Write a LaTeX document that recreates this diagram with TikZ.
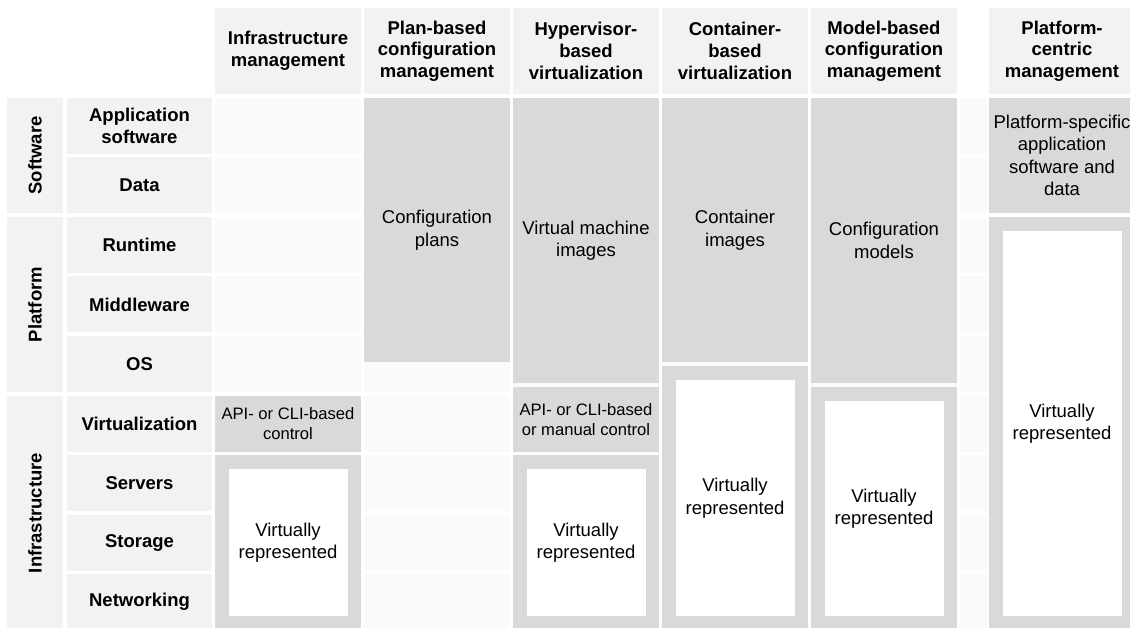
\documentclass[tikz,border=0pt]{standalone}
\usepackage{fontspec}
\setmainfont{Liberation Sans}
\usepackage{tikz}
\usetikzlibrary{positioning}
\definecolor{cellgrey}{RGB}{242,242,242}
\definecolor{bodygrey}{RGB}{250,250,250}
\definecolor{boxgrey}{RGB}{217,217,217}

\begin{document}
\begin{tikzpicture}[
  x=1pt, y=-1pt,
  every node/.style={inner sep=0pt, outer sep=0pt, anchor=north west, align=center},
  hdr/.style={fill=cellgrey, minimum width=146pt, minimum height=86pt, font=\fontsize{18.5}{21.7}\selectfont\bfseries},
  lbl/.style={fill=cellgrey, minimum width=145pt, minimum height=56pt, font=\fontsize{18.5}{22}\selectfont\bfseries},
  cat/.style={fill=cellgrey, anchor=center, rotate=90, minimum height=56pt, font=\fontsize{18.5}{22}\selectfont\bfseries},
  cell/.style={fill=bodygrey, minimum width=146pt, minimum height=56pt},
  box/.style={fill=boxgrey, minimum width=146pt, font=\fontsize{18.5}{22.5}\selectfont},
  ctl/.style={fill=boxgrey, minimum width=146pt, font=\fontsize{16.6}{19.3}\selectfont},
  rep/.style={fill=white, anchor=center, minimum width=119pt, font=\fontsize{18.5}{22.5}\selectfont}
]
\useasboundingbox (0,0) rectangle (1130,628);

% empty body cells
\foreach \cx in {215,364,513,662,811}
  \foreach \ry [count=\r] in {98,157.5,217,276.5,336,395.5,455,514.5,574}
    \node[cell] (cell-\cx-\r) at (\cx,\ry) {};
\foreach \ry [count=\r] in {98,157.5,217,276.5,336,395.5,455,514.5,574}
  \node[cell, minimum width=27pt] (gap-\r) at (960,\ry) {};

% column heads
\node[hdr] (im) at (215,8) {Infrastructure\\management};
\node[hdr] (pb) at (364,8) {Plan-based\\configuration\\management};
\node[hdr] (hv) at (513,8) {Hypervisor-\\based\\virtualization};
\node[hdr] (ct) at (662,8) {Container-\\based\\virtualization};
\node[hdr] (mb) at (811,8) {Model-based\\configuration\\management};
\node[hdr] (pc) at (989,8) {Platform-\\centric\\management};

% layers
\node[cat, minimum width=115pt] (sw) at (35,155.5) {Software};
\node[cat, minimum width=175pt] (pf) at (35,304.5) {Platform};
\node[cat, minimum width=234pt] (is) at (35,513) {Infrastructure};

\node[lbl] (app) at (67,98)    {Application\\software};
\node[lbl] (dat) at (67,157.5) {Data};
\node[lbl] (rt)  at (67,217)   {Runtime};
\node[lbl] (mw)  at (67,276.5) {Middleware};
\node[lbl] (os)  at (67,336)   {OS};
\node[lbl] (vz)  at (67,395.5) {Virtualization};
\node[lbl] (srv) at (67,455)   {Servers};
\node[lbl] (sto) at (67,514.5) {Storage};
\node[lbl] (net) at (67,574)   {Networking};

% infrastructure management
\node[ctl, minimum height=56pt] (im-ctl) at (215,395.5) {API- or CLI-based\\control};
\node[box, minimum height=175pt] (im-virt) at (215,455) {};
\node[rep, minimum height=147pt] (im-rep) at (im-virt.center) {Virtually\\represented};

% plan-based configuration management
\node[box, minimum height=264pt] (pb-plan) at (364,98) {Configuration\\plans};

% hypervisor-based virtualization
\node[box, minimum height=285pt] (hv-img) at (513,98) {Virtual machine\\images};
\node[ctl, minimum height=65pt] (hv-ctl) at (513,387) {API- or CLI-based\\or manual control};
\node[box, minimum height=175pt] (hv-virt) at (513,455) {};
\node[rep, minimum height=147pt] (hv-rep) at (hv-virt.center) {Virtually\\represented};

% container-based virtualization
\node[box, minimum height=264pt] (ct-img) at (662,98) {Container\\images};
\node[box, minimum height=264pt] (ct-virt) at (662,366) {};
\node[rep, minimum height=236pt] (ct-rep) at (ct-virt.center) {Virtually\\represented};

% model-based configuration management
\node[box, minimum height=285pt] (mb-mod) at (811,98) {Configuration\\models};
\node[box, minimum height=243pt] (mb-virt) at (811,387) {};
\node[rep, minimum height=215pt] (mb-rep) at (mb-virt.center) {Virtually\\represented};

% platform-centric management
\node[box, minimum height=115pt] (pc-app) at (989,98) {Platform-specific\\application\\software and\\data};
\node[box, minimum height=413pt] (pc-virt) at (989,217) {};
\node[rep, minimum height=385pt] (pc-rep) at (pc-virt.center) {Virtually\\represented};
\end{tikzpicture}
\end{document}
